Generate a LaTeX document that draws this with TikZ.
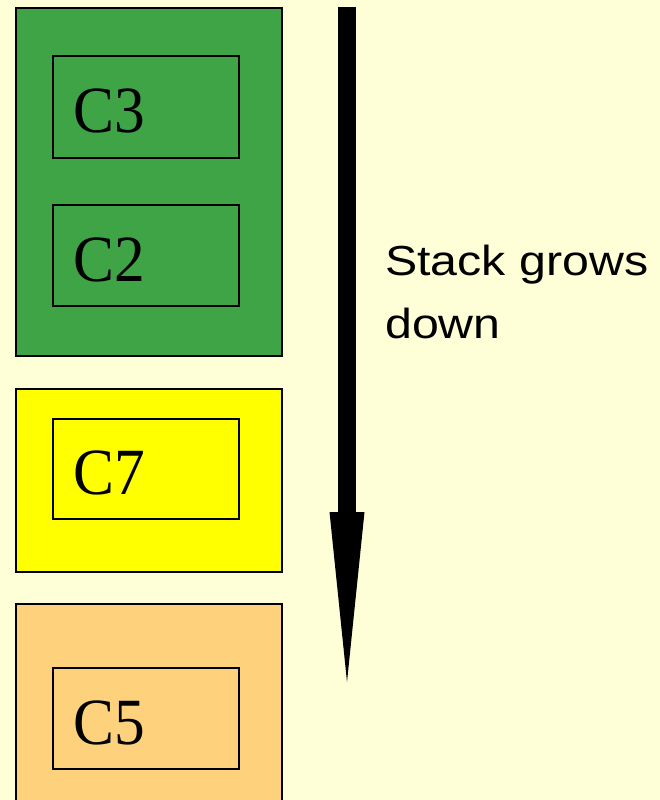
\documentclass[tikz,border=0pt]{standalone}
\usepackage{fontspec}
\usepackage{tikz}
\usetikzlibrary{positioning}
\definecolor{paperyellow}{RGB}{255,255,215}
\definecolor{framegreen}{RGB}{63,164,70}
\definecolor{frameyellow}{RGB}{255,255,0}
\definecolor{frameorange}{RGB}{254,210,124}
\newfontfamily\callfont[FakeStretch=0.93]{Liberation Serif}
\newfontfamily\notefont[FakeStretch=1.15]{Liberation Sans}
\tikzset{
  frame/.style={draw,line width=1.8pt,anchor=north west,inner sep=0pt,
    minimum width=266pt},
  call/.style={draw,line width=1.8pt,anchor=north west,inner xsep=21pt,
    text width=144pt,align=left,minimum height=102pt,
    text height=52pt,text depth=0pt,font=\callfont\fontsize{66}{66}\selectfont},
}

\begin{document}
\begin{tikzpicture}[x=1pt,y=-1pt]
  \fill[paperyellow] (0,0) rectangle (660,800);
  \clip (0,0) rectangle (660,800);
  % stack frames
  \node[frame,fill=framegreen,minimum height=348pt] (greenframe) at (15,7) {};
  \node[frame,fill=frameyellow,minimum height=183pt] (yellowframe) at (15,388) {};
  \node[frame,fill=frameorange,minimum height=230pt] (orangeframe) at (15,603) {};
  % calls inside the frames
  \node[call] (c3) at (52,55) {C3};
  \node[call,minimum height=101pt] (c2) at (52,204) {C2};
  \node[call,minimum height=100pt] (c7) at (52,418) {C7};
  \node[call,minimum height=101pt] (c5) at (52,667) {C5};
  % direction of growth
  \coordinate (growtop) at (347,7);
  \coordinate (growtip) at (347,682);
  \draw[line width=18pt] (growtop) -- ++(0,506);
  \fill (growtip) -- ++(-17.5,-170) -- ++(35,0) -- cycle;
  \node[anchor=base west,align=left,inner sep=0pt,
    font=\notefont\fontsize{42}{63}\selectfont] (note) at (385,338) {Stack grows\\down};
\end{tikzpicture}
\end{document}
